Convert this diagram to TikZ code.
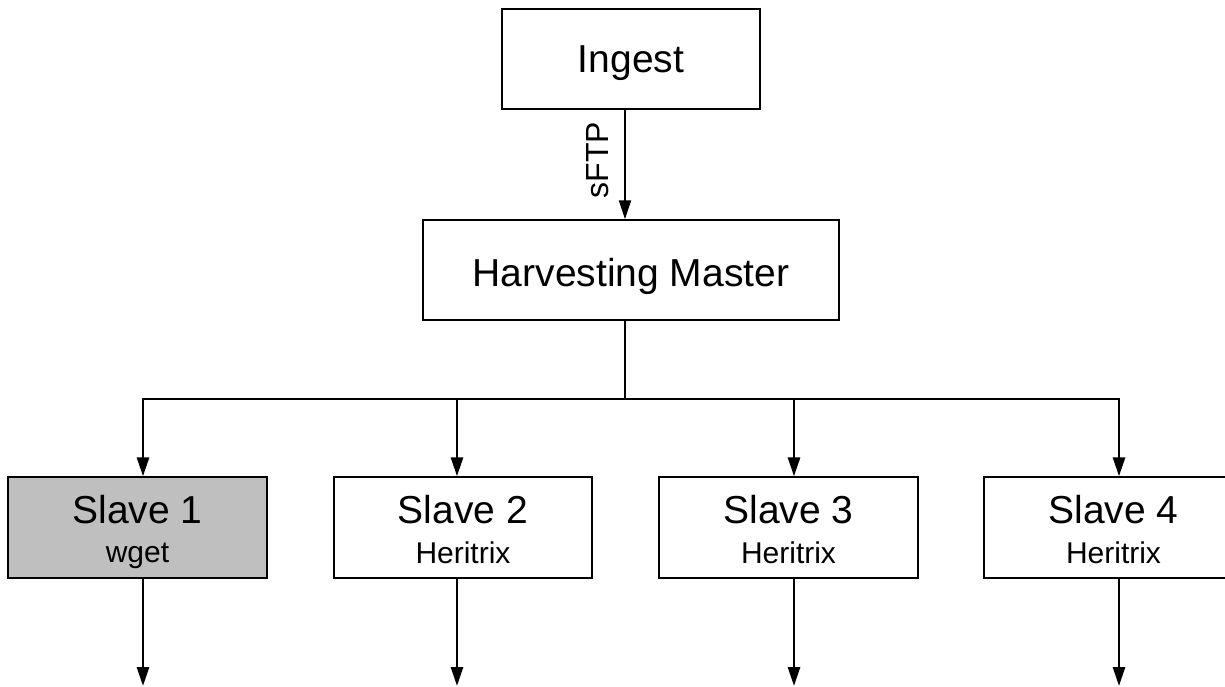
\documentclass[tikz,border=0pt]{standalone}
\usepackage{fontspec}
\setmainfont{Liberation Sans}
\usetikzlibrary{arrows.meta}
\tikzset{
  box/.style={draw=black, line width=1.3pt, fill=white, rectangle, inner sep=0pt},
  graybox/.style={box, fill=black!25},
  bigtext/.style={font=\fontsize{39}{39}\selectfont, inner sep=0pt, anchor=base},
  smalltext/.style={font=\fontsize{30}{30}\selectfont, inner sep=0pt, anchor=base},
  conn/.style={line width=2.8pt},
  arr/.style={conn, -{Triangle[length=19pt, width=12pt]}},
  thinarr/.style={line width=2pt, -{Triangle[length=19pt, width=12pt]}},
}
\begin{document}
\begin{tikzpicture}[x=1pt, y=-1pt]
\useasboundingbox (0,0) rectangle (1225,687);
% boxes
\node[box, minimum width=258pt, minimum height=100pt] (ingest) at (631,59) {};
\node[bigtext] (ingestt) at (631,73) {Ingest};
\node[box, minimum width=416pt, minimum height=100pt] (hm) at (631,270) {};
\node[bigtext] (hmt) at (631,286) {Harvesting Master};
\node[graybox, minimum width=259pt, minimum height=101pt] (s1) at (137.5,527.5) {};
\node[box, minimum width=258pt, minimum height=101pt] (s2) at (463,527.5) {};
\node[box, minimum width=259pt, minimum height=101pt] (s3) at (788.5,527.5) {};
\node[box, minimum width=259pt, minimum height=101pt] (s4) at (1113.5,527.5) {};
\node[bigtext] (s1a) at (137.5,523) {Slave 1};
\node[smalltext] (s1b) at (137.5,562) {wget};
\node[bigtext] (s2a) at (463,523) {Slave 2};
\node[smalltext] (s2b) at (463,563) {Heritrix};
\node[bigtext] (s3a) at (788.5,523) {Slave 3};
\node[smalltext] (s3b) at (788.5,563) {Heritrix};
\node[bigtext] (s4a) at (1113.5,523) {Slave 4};
\node[smalltext] (s4b) at (1113.5,563) {Heritrix};
% coordinates
\coordinate (ax) at (625,0);
\coordinate (bus) at (625,399);
\coordinate (b1) at (143,399);
\coordinate (b2) at (457,399);
\coordinate (b3) at (794,399);
\coordinate (b4) at (1119,399);
\coordinate (o1) at (143,686);
\coordinate (o2) at (457,686);
\coordinate (o3) at (794,686);
\coordinate (o4) at (1119,686);
% sFTP arrow
\draw[thinarr] (ingest.south -| ax) -- (hm.north -| ax);
\node[font=\fontsize{32}{32}\selectfont, rotate=90, inner sep=0pt] (sftp) at (598,160) {sFTP};
% bus
\draw[conn] (hm.south -| ax) -- (bus);
\draw[conn, line cap=rect] (b1) -- (b4);
\draw[arr] (b1) -- (s1.north -| b1);
\draw[arr] (b2) -- (s2.north -| b2);
\draw[arr] (b3) -- (s3.north -| b3);
\draw[arr] (b4) -- (s4.north -| b4);
% outputs
\draw[arr] (s1.south -| o1) -- (o1);
\draw[arr] (s2.south -| o2) -- (o2);
\draw[arr] (s3.south -| o3) -- (o3);
\draw[arr] (s4.south -| o4) -- (o4);
\end{tikzpicture}
\end{document}
